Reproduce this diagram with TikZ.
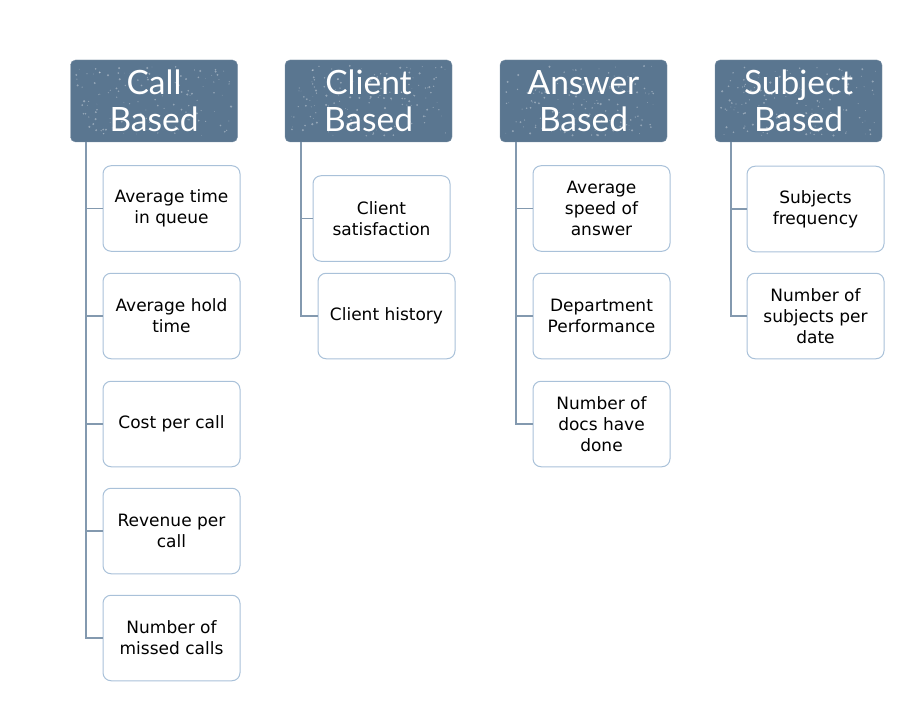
\documentclass[tikz,border=0pt]{standalone}
\usepackage{fontspec}
\usetikzlibrary{calc}
\setmainfont{DejaVu Sans}
\newfontfamily\headfont{Lato}
\definecolor{hdr}{HTML}{5A7690}
\definecolor{bxline}{HTML}{A9C1D9}
\definecolor{cnline}{HTML}{8399AF}
\tikzset{
  hdrbox/.style={fill=hdr, draw=hdr!80!white, rounded corners=5pt, minimum width=167pt, minimum height=82pt,
    text=white, font=\headfont\fontsize{33.5}{37}\selectfont, align=center, inner sep=0pt},
  leaf/.style={draw=bxline, line width=1pt, fill=white, rounded corners=8pt, minimum width=137pt, minimum height=85.5pt,
    font=\fontsize{17}{21}\selectfont, align=center, inner sep=0pt, text=black},
  conn/.style={draw=cnline, line width=1.3pt},
  speck/.style={fill=white, opacity=0.35}
}
\begin{document}
\begin{tikzpicture}[x=1pt,y=-1pt]
\useasboundingbox (0,0) rectangle (910,714);
% headers
\node[hdrbox] (callH) at (154,101) {Call\\Based};
\node[hdrbox] (clientH) at (368.5,101) {Client\\Based};
\node[hdrbox] (answerH) at (583.5,101) {Answer\\Based};
\node[hdrbox] (subjH) at (798.5,101) {Subject\\Based};
% texture speckles on headers
\pgfmathsetseed{7}
\foreach \h in {callH,clientH,answerH,subjH}{
  \foreach \i in {1,...,140}{
    \pgfmathsetmacro{\rx}{rnd*155+6}
    \pgfmathsetmacro{\ry}{rnd*70+6}
    \pgfmathsetmacro{\rr}{rnd*0.9+0.3}
    \fill[speck] ($(\h.north west)+(\rx,\ry)$) circle[radius=\rr];
  }
}
% trunk tops
\coordinate (callT) at (86,142);
\coordinate (clientT) at (301,142);
\coordinate (answerT) at (516,142);
\coordinate (subjT) at (731,142);
% call based
\node[leaf] (c1) at (171.5,208.5) {Average time\\in queue};
\node[leaf] (c2) at (171.5,316) {Average hold\\time};
\node[leaf] (c3) at (171.5,424) {Cost per call};
\node[leaf] (c4) at (171.5,531) {Revenue per\\call};
\node[leaf] (c5) at (171.5,638) {Number of\\missed calls};
% client based
\node[leaf] (k1) at (381.5,218.5) {Client\\satisfaction};
\node[leaf] (k2) at (386.5,316) {Client history};
% answer based
\node[leaf] (a1) at (601.5,208.5) {Average\\speed of\\answer};
\node[leaf] (a2) at (601.5,316) {Department\\Performance};
\node[leaf] (a3) at (601.5,424) {Number of\\docs have\\done};
% subject based
\node[leaf] (s1) at (815.5,209) {Subjects\\frequency};
\node[leaf] (s2) at (815.5,316) {Number of\\subjects per\\date};
% connectors
\foreach \n in {c1,c2,c3,c4,c5} \draw[conn] (callT) |- (\n.west);
\foreach \n in {k1,k2} \draw[conn] (clientT) |- (\n.west);
\foreach \n in {a1,a2,a3} \draw[conn] (answerT) |- (\n.west);
\foreach \n in {s1,s2} \draw[conn] (subjT) |- (\n.west);
\end{tikzpicture}
\end{document}
